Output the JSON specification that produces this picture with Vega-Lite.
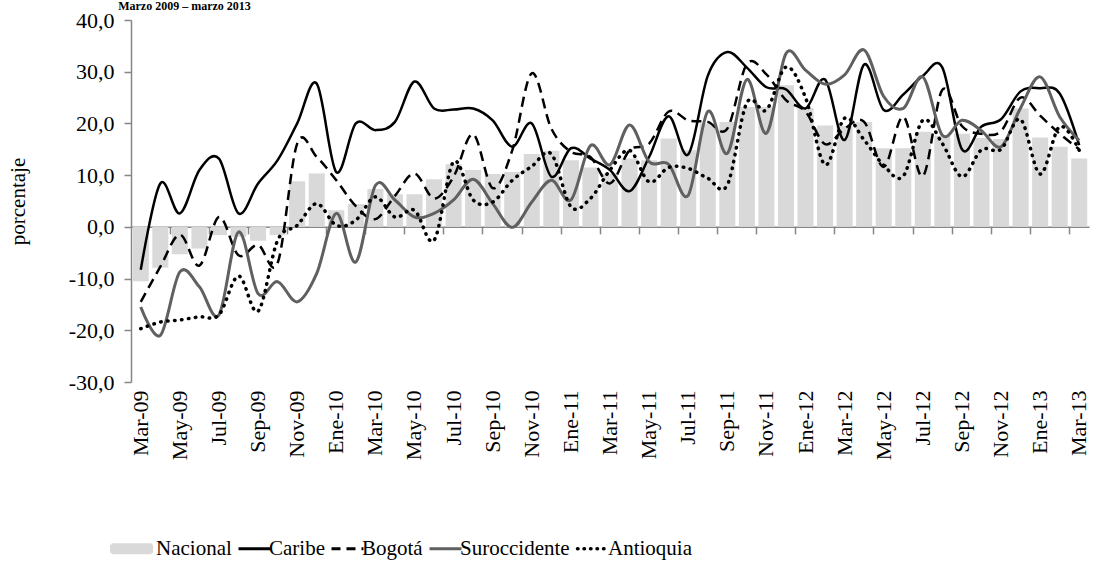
{
  "$schema": "https://vega.github.io/schema/vega-lite/v6.json",
  "width": 958,
  "height": 362,
  "autosize": {"type": "none"},
  "padding": {"left": 131, "top": 20, "right": 5, "bottom": 185},
  "background": "white",
  "title": {"text": "Marzo 2009 – marzo 2013", "anchor": "start", "fontSize": 12, "fontWeight": "bold", "font": "Liberation Serif", "color": "#000000", "dx": 111, "offset": -4},
  "config": {
    "font": "Liberation Serif",
    "view": {"stroke": null},
    "axis": {"grid": false, "labelFont": "Liberation Serif", "titleFont": "Liberation Serif", "labelColor": "#000000", "titleColor": "#000000"}
  },
  "data": {"values": [
    {"mes": "Mar-09", "Nacional": -10.5, "Caribe": -8.3, "Bogota": -14.5, "Suroccidente": -15.5, "Antioquia": -19.7},
    {"mes": "Abr-09", "Nacional": -7.9, "Caribe": 8.4, "Bogota": -7.7, "Suroccidente": -21, "Antioquia": -18.4},
    {"mes": "May-09", "Nacional": -5.3, "Caribe": 2.6, "Bogota": -1.5, "Suroccidente": -8.7, "Antioquia": -18},
    {"mes": "Jun-09", "Nacional": -4.2, "Caribe": 11, "Bogota": -7.5, "Suroccidente": -11.6, "Antioquia": -17.4},
    {"mes": "Jul-09", "Nacional": -1.6, "Caribe": 13.2, "Bogota": 1.9, "Suroccidente": -17, "Antioquia": -17},
    {"mes": "Ago-09", "Nacional": -1.9, "Caribe": 2.6, "Bogota": -5.5, "Suroccidente": -1, "Antioquia": -9.5},
    {"mes": "Sep-09", "Nacional": -2.7, "Caribe": 8.4, "Bogota": -3.5, "Suroccidente": -12.9, "Antioquia": -16.3},
    {"mes": "Oct-09", "Nacional": -1.6, "Caribe": 12.9, "Bogota": -7, "Suroccidente": -10.6, "Antioquia": -2.6},
    {"mes": "Nov-09", "Nacional": 8.8, "Caribe": 20, "Bogota": 16.1, "Suroccidente": -14.5, "Antioquia": 0.3},
    {"mes": "Dic-09", "Nacional": 10.3, "Caribe": 27.7, "Bogota": 13.5, "Suroccidente": -9, "Antioquia": 4.5},
    {"mes": "Ene-10", "Nacional": 3.2, "Caribe": 10.6, "Bogota": 9, "Suroccidente": 2.6, "Antioquia": 0.3},
    {"mes": "Feb-10", "Nacional": 4.4, "Caribe": 20, "Bogota": 4, "Suroccidente": -6.8, "Antioquia": 1.3},
    {"mes": "Mar-10", "Nacional": 7.3, "Caribe": 18.7, "Bogota": 1.5, "Suroccidente": 8, "Antioquia": 5.8},
    {"mes": "Abr-10", "Nacional": 6.3, "Caribe": 20.3, "Bogota": 6, "Suroccidente": 5.2, "Antioquia": 1.9},
    {"mes": "May-10", "Nacional": 6.3, "Caribe": 28.1, "Bogota": 10.3, "Suroccidente": 1.9, "Antioquia": 3.2},
    {"mes": "Jun-10", "Nacional": 9.2, "Caribe": 22.9, "Bogota": 5.5, "Suroccidente": 2.6, "Antioquia": -2.6},
    {"mes": "Jul-10", "Nacional": 12.1, "Caribe": 22.7, "Bogota": 9.7, "Suroccidente": 5.2, "Antioquia": 12.6},
    {"mes": "Ago-10", "Nacional": 11.0, "Caribe": 22.9, "Bogota": 17.9, "Suroccidente": 9.2, "Antioquia": 5.2},
    {"mes": "Sep-10", "Nacional": 10.2, "Caribe": 20.6, "Bogota": 7.5, "Suroccidente": 4.5, "Antioquia": 4.8},
    {"mes": "Oct-10", "Nacional": 10.6, "Caribe": 15.5, "Bogota": 14.8, "Suroccidente": -0.1, "Antioquia": 9},
    {"mes": "Nov-10", "Nacional": 14.1, "Caribe": 20, "Bogota": 29.7, "Suroccidente": 4.8, "Antioquia": 11.7},
    {"mes": "Dic-10", "Nacional": 14.7, "Caribe": 9.7, "Bogota": 19, "Suroccidente": 9, "Antioquia": 14.1},
    {"mes": "Ene-11", "Nacional": 12.9, "Caribe": 15.2, "Bogota": 14.5, "Suroccidente": 5.2, "Antioquia": 3.9},
    {"mes": "Feb-11", "Nacional": 11.5, "Caribe": 13.2, "Bogota": 13.5, "Suroccidente": 15.7, "Antioquia": 5.5},
    {"mes": "Mar-11", "Nacional": 10.3, "Caribe": 11, "Bogota": 8.4, "Suroccidente": 12, "Antioquia": 11},
    {"mes": "Abr-11", "Nacional": 13.2, "Caribe": 6.9, "Bogota": 14.8, "Suroccidente": 19.7, "Antioquia": 14.8},
    {"mes": "May-11", "Nacional": 12.9, "Caribe": 13.5, "Bogota": 16.1, "Suroccidente": 12.6, "Antioquia": 8.7},
    {"mes": "Jun-11", "Nacional": 17.1, "Caribe": 21.4, "Bogota": 22.3, "Suroccidente": 12.1, "Antioquia": 11.5},
    {"mes": "Jul-11", "Nacional": 14.8, "Caribe": 14, "Bogota": 20.6, "Suroccidente": 6.1, "Antioquia": 11.3},
    {"mes": "Ago-11", "Nacional": 20.0, "Caribe": 29.2, "Bogota": 20.3, "Suroccidente": 22.3, "Antioquia": 9.4},
    {"mes": "Sep-11", "Nacional": 20.3, "Caribe": 33.8, "Bogota": 19, "Suroccidente": 14.2, "Antioquia": 8.1},
    {"mes": "Oct-11", "Nacional": 23.2, "Caribe": 30.8, "Bogota": 31.5, "Suroccidente": 28.5, "Antioquia": 24},
    {"mes": "Nov-11", "Nacional": 23.2, "Caribe": 27, "Bogota": 29.5, "Suroccidente": 18.1, "Antioquia": 22.6},
    {"mes": "Dic-11", "Nacional": 27.4, "Caribe": 26.6, "Bogota": 24.5, "Suroccidente": 33.5, "Antioquia": 30.9},
    {"mes": "Ene-12", "Nacional": 23.0, "Caribe": 22.9, "Bogota": 22.3, "Suroccidente": 30.3, "Antioquia": 25},
    {"mes": "Feb-12", "Nacional": 19.6, "Caribe": 28.5, "Bogota": 16, "Suroccidente": 27.6, "Antioquia": 12},
    {"mes": "Mar-12", "Nacional": 19.5, "Caribe": 16.8, "Bogota": 19, "Suroccidente": 29.4, "Antioquia": 21},
    {"mes": "Abr-12", "Nacional": 20.3, "Caribe": 31.4, "Bogota": 20.3, "Suroccidente": 34.2, "Antioquia": 16.8},
    {"mes": "May-12", "Nacional": 15.2, "Caribe": 22.6, "Bogota": 11.6, "Suroccidente": 25.2, "Antioquia": 11.9},
    {"mes": "Jun-12", "Nacional": 15.2, "Caribe": 25.6, "Bogota": 21.3, "Suroccidente": 22.9, "Antioquia": 9.8},
    {"mes": "Jul-12", "Nacional": 18.4, "Caribe": 29.2, "Bogota": 9.8, "Suroccidente": 29, "Antioquia": 20.6},
    {"mes": "Ago-12", "Nacional": 17.6, "Caribe": 30.8, "Bogota": 26.5, "Suroccidente": 17.7, "Antioquia": 16.1},
    {"mes": "Sep-12", "Nacional": 18.0, "Caribe": 15, "Bogota": 19.5, "Suroccidente": 20.6, "Antioquia": 9.7},
    {"mes": "Oct-12", "Nacional": 17.2, "Caribe": 19.4, "Bogota": 18, "Suroccidente": 18.6, "Antioquia": 14.9},
    {"mes": "Nov-12", "Nacional": 17.0, "Caribe": 20.8, "Bogota": 18.5, "Suroccidente": 15.5, "Antioquia": 15},
    {"mes": "Dic-12", "Nacional": 22.9, "Caribe": 26.2, "Bogota": 25, "Suroccidente": 23, "Antioquia": 20.8},
    {"mes": "Ene-13", "Nacional": 17.3, "Caribe": 26.8, "Bogota": 21.5, "Suroccidente": 29, "Antioquia": 10.2},
    {"mes": "Feb-13", "Nacional": 15.5, "Caribe": 25.8, "Bogota": 18, "Suroccidente": 21.3, "Antioquia": 19.4},
    {"mes": "Mar-13", "Nacional": 13.2, "Caribe": 15.8, "Bogota": 15, "Suroccidente": 16.7, "Antioquia": 14.8}
  ]},
  "resolve": {"axis": {"x": "independent"}},
  "layer": [
    {
      "mark": {"type": "bar", "color": "#d9d9d9"},
      "encoding": {
        "x": {"field": "mes", "type": "ordinal", "sort": null,
          "scale": {"paddingInner": 0.18, "paddingOuter": 0.09},
          "axis": {"title": null, "labelAngle": -90, "labelFontSize": 22, "ticks": false, "domain": false, "labelPadding": 8,
            "values": ["Mar-09","May-09","Jul-09","Sep-09","Nov-09","Ene-10","Mar-10","May-10","Jul-10","Sep-10","Nov-10","Ene-11","Mar-11","May-11","Jul-11","Sep-11","Nov-11","Ene-12","Mar-12","May-12","Jul-12","Sep-12","Nov-12","Ene-13","Mar-13"]}},
        "y": {"field": "Nacional", "type": "quantitative",
          "scale": {"domain": [-30, 40], "nice": false, "zero": false},
          "axis": {"title": "porcentaje", "titleFontSize": 21, "titleFontWeight": "normal", "titlePadding": 40,
            "values": [-30, -20, -10, 0, 10, 20, 30, 40], "labelFontSize": 22, "labelPadding": 10, "tickSize": 7,
            "tickColor": "#868686", "domainColor": "#868686", "domainWidth": 1.5, "tickWidth": 1.5,
            "labelExpr": "replace(replace(format(datum.value, '.1f'), '.', ','), '\u2212', '-')"}},
        "color": {"datum": "Nacional", "type": "nominal",
          "scale": {"domain": ["Nacional", "Caribe", "Bogotá", "Suroccidente", "Antioquia"], "range": ["#d9d9d9", "#000000", "#000000", "#606060", "#000000"]},
          "legend": {"orient": "none", "legendX": -10, "legendY": 518, "direction": "horizontal", "title": null,
            "labelFontSize": 21, "labelFont": "Liberation Serif", "labelColor": "#000000", "symbolSize": 1600, "labelOffset": 14, "columnPadding": 0,
            "encode": {"symbols": {"update": {
              "shape": {"signal": "datum.value === 'Nacional' ? 'M-1,-0.2H1V0.2H-1Z' : 'M-0.3,0H1.3'"},
              "fill": {"signal": "datum.value === 'Nacional' ? '#d9d9d9' : 'transparent'"},
              "stroke": {"signal": "datum.value === 'Nacional' ? 'transparent' : (datum.value === 'Suroccidente' ? '#606060' : '#000000')"},
              "strokeWidth": {"signal": "datum.value === 'Antioquia' ? 3.5 : 3"},
              "strokeDash": {"signal": "datum.value === 'Bogotá' ? [9, 6] : (datum.value === 'Antioquia' ? [0.5, 6] : [1, 0])"},
              "strokeCap": {"signal": "datum.value === 'Antioquia' ? 'round' : 'butt'"},
              "opacity": {"value": 1},
              "size": {"value": 1600}
            }}}}}
      }
    },
    {
      "mark": {"type": "line", "interpolate": "cardinal", "strokeWidth": 2.5},
      "encoding": {
        "x": {"field": "mes", "type": "ordinal", "sort": null,
          "axis": {"title": null, "labels": false, "orient": "bottom", "offset": -155.14, "tickSize": 7, "ticks": true,
            "tickColor": "#868686", "domainColor": "#868686", "domainWidth": 1.5, "tickWidth": 1.5, "bandPosition": -0.11,
            "values": ["May-09","Jul-09","Sep-09","Nov-09","Ene-10","Mar-10","May-10","Jul-10","Sep-10","Nov-10","Ene-11","Mar-11","May-11","Jul-11","Sep-11","Nov-11","Ene-12","Mar-12","May-12","Jul-12","Sep-12","Nov-12","Ene-13","Mar-13"]}},
        "y": {"field": "Caribe", "type": "quantitative"},
        "color": {"datum": "Caribe", "type": "nominal"}
      }
    },
    {
      "mark": {"type": "line", "interpolate": "cardinal", "strokeWidth": 2.5, "strokeDash": [10, 6]},
      "encoding": {
        "x": {"field": "mes", "type": "ordinal", "sort": null, "axis": null},
        "y": {"field": "Bogota", "type": "quantitative"},
        "color": {"datum": "Bogotá", "type": "nominal"}
      }
    },
    {
      "mark": {"type": "line", "interpolate": "cardinal", "strokeWidth": 3},
      "encoding": {
        "x": {"field": "mes", "type": "ordinal", "sort": null, "axis": null},
        "y": {"field": "Suroccidente", "type": "quantitative"},
        "color": {"datum": "Suroccidente", "type": "nominal"}
      }
    },
    {
      "mark": {"type": "line", "interpolate": "cardinal", "strokeWidth": 3.5, "strokeDash": [0.5, 6.5], "strokeCap": "round"},
      "encoding": {
        "x": {"field": "mes", "type": "ordinal", "sort": null, "axis": null},
        "y": {"field": "Antioquia", "type": "quantitative"},
        "color": {"datum": "Antioquia", "type": "nominal"}
      }
    }
  ]
}
